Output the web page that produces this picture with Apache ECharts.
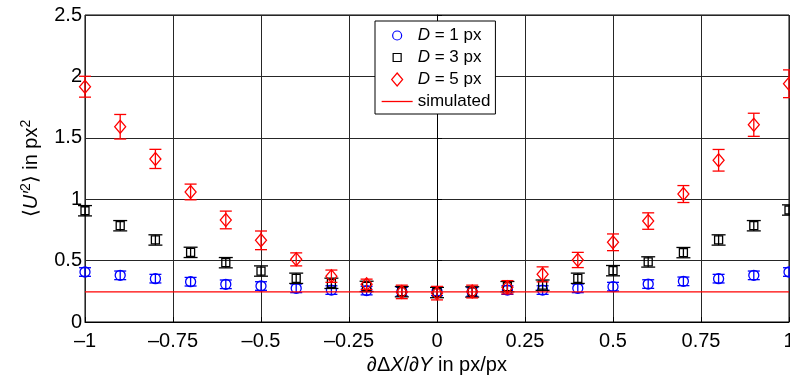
<!DOCTYPE html>
<html>
<head>
<meta charset="utf-8">
<script src="https://cdn.jsdelivr.net/npm/echarts@6/dist/echarts.min.js"></script>
<style>
html,body{margin:0;padding:0;background:#fff;}
#chart{width:790px;height:379px;}
</style>
</head>
<body>
<div id="chart"></div>
<script>
// ---- data ----
var xVals = [-1, -0.9, -0.8, -0.7, -0.6, -0.5, -0.4, -0.3, -0.2, -0.1, 0, 0.1, 0.2, 0.3, 0.4, 0.5, 0.6, 0.7, 0.8, 0.9, 1];
var d1Mean = [0.407, 0.380, 0.353, 0.328, 0.307, 0.293, 0.274, 0.260, 0.256, 0.247, 0.250, 0.245, 0.260, 0.260, 0.274, 0.288, 0.309, 0.331, 0.353, 0.380, 0.407];
var d1Err  = [0.035, 0.035, 0.035, 0.035, 0.035, 0.035, 0.035, 0.035, 0.035, 0.035, 0.035, 0.035, 0.035, 0.035, 0.035, 0.035, 0.035, 0.035, 0.035, 0.035, 0.035];
var d3Mean = [0.906, 0.784, 0.668, 0.567, 0.483, 0.415, 0.356, 0.315, 0.290, 0.247, 0.240, 0.245, 0.288, 0.300, 0.356, 0.418, 0.489, 0.565, 0.668, 0.784, 0.912];
var d3Err  = [0.042, 0.042, 0.042, 0.042, 0.042, 0.042, 0.042, 0.042, 0.042, 0.042, 0.042, 0.042, 0.042, 0.042, 0.042, 0.042, 0.042, 0.042, 0.042, 0.042, 0.042];
var d5Mean = [1.916, 1.590, 1.328, 1.059, 0.831, 0.665, 0.510, 0.373, 0.307, 0.245, 0.235, 0.248, 0.283, 0.388, 0.505, 0.649, 0.822, 1.042, 1.317, 1.606, 1.940];
var d5Err  = [0.085, 0.100, 0.078, 0.064, 0.072, 0.076, 0.053, 0.050, 0.042, 0.055, 0.055, 0.052, 0.054, 0.061, 0.062, 0.068, 0.067, 0.069, 0.088, 0.094, 0.113];
var simX = [-1, 1];
var simY = [0.245, 0.245];
var xTickLabels = ['\u20131', '\u20130.75', '\u20130.5', '\u20130.25', '0', '0.25', '0.5', '0.75', '1'];
var yTickLabels = ['0', '0.5', '1', '1.5', '2', '2.5'];
var seriesNames = ['D = 1 px', 'D = 3 px', 'D = 5 px', 'simulated'];

// ---- helpers ----
function pts(m) { return xVals.map(function (x, i) { return [x, m[i]]; }); }
function errData(m, e) { return xVals.map(function (x, i) { return [x, m[i] - e[i], m[i] + e[i]]; }); }
function errSeries(m, e, color, hw, z) {
  return {
    type: 'custom', z: z, silent: true,
    data: errData(m, e),
    renderItem: function (params, api) {
      var x = api.value(0), lo = api.value(1), hi = api.value(2);
      var t = api.coord([x, hi]), b = api.coord([x, lo]);
      var st = { stroke: color, lineWidth: 1.3 };
      return { type: 'group', children: [
        { type: 'line', shape: { x1: t[0], y1: t[1], x2: b[0], y2: b[1] }, style: st },
        { type: 'line', shape: { x1: t[0] - hw, y1: t[1], x2: t[0] + hw, y2: t[1] }, style: st },
        { type: 'line', shape: { x1: b[0] - hw, y1: b[1], x2: b[0] + hw, y2: b[1] }, style: st }
      ]};
    }
  };
}

var FONT = '"Liberation Sans", Arial, Helvetica, sans-serif';
var chart = echarts.init(document.getElementById('chart'), null, { renderer: 'canvas' });

var option = {
  animation: false,
  backgroundColor: '#fff',
  grid: { left: 85, right: 1, top: 15, bottom: 57, outerBoundsMode: 'none', containLabel: false,
          show: true, borderColor: '#000', borderWidth: 1, backgroundColor: 'transparent' },
  xAxis: {
    type: 'value', min: -1, max: 1, interval: 0.25,
    axisLine: { show: true, onZero: false, lineStyle: { color: '#000', width: 1 } },
    axisTick: { show: true, inside: true, length: 5, lineStyle: { color: '#000' } },
    splitLine: { show: true, lineStyle: { color: '#262626', width: 1 } },
    axisLabel: {
      color: '#000', fontSize: 20, fontFamily: FONT, margin: 9,
      formatter: function (v) { return xTickLabels[Math.round((v + 1) / 0.25)]; }
    },
    name: '\u2202\u0394{i|X}/\u2202{i|Y} in px/px',
    nameLocation: 'middle', nameGap: 28,
    nameTextStyle: {
      color: '#000', fontSize: 20, fontFamily: FONT,
      rich: { i: { fontStyle: 'italic', fontSize: 20, fontFamily: FONT, color: '#000' } }
    }
  },
  yAxis: {
    type: 'value', min: 0, max: 2.5, interval: 0.5,
    axisLine: { show: true, lineStyle: { color: '#000', width: 1 } },
    axisTick: { show: true, inside: true, length: 5, lineStyle: { color: '#000' } },
    splitLine: { show: true, lineStyle: { color: '#262626', width: 1 } },
    axisLabel: {
      color: '#000', fontSize: 20, fontFamily: FONT, margin: 3,
      formatter: function (v) { return yTickLabels[Math.round(v / 0.5)]; }
    },
    name: '\u27E8{i|U\u2032}{s|2}\u27E9 in px{s|2}',
    nameLocation: 'middle', nameGap: 42, nameRotate: 90,
    nameTextStyle: {
      color: '#000', fontSize: 20, fontFamily: FONT,
      rich: {
        i: { fontStyle: 'italic', fontSize: 20, fontFamily: FONT, color: '#000' },
        s: { fontSize: 14, fontFamily: FONT, color: '#000', verticalAlign: 'top', lineHeight: 24 }
      }
    }
  },
  legend: {
    orient: 'vertical', left: 375, top: 21,
    padding: [6, 5, 4, 6], itemGap: 5, itemWidth: 31, itemHeight: 13,
    backgroundColor: '#fff', borderColor: '#000', borderWidth: 1,
    selectedMode: false,
    itemStyle: { borderWidth: 1 },
    textStyle: {
      color: '#000', fontSize: 17, fontFamily: FONT,
      rich: { i: { fontStyle: 'italic', fontSize: 17, fontFamily: FONT, color: '#000' } }
    },
    formatter: function (name) { return name.charAt(0) === 'D' ? '{i|D}' + name.slice(1) : name; },
    data: [
      { name: seriesNames[0], icon: 'path://M0,0M31,13M20,6.5A4.5,4.5,0,1,1,11,6.5A4.5,4.5,0,1,1,20,6.5Z',
        itemStyle: { color: 'rgba(0,0,0,0)', borderColor: '#0000ff', borderWidth: 1.2 } },
      { name: seriesNames[1], icon: 'path://M0,0M31,13M11.5,2.5L19.5,2.5L19.5,10.5L11.5,10.5Z',
        itemStyle: { color: 'rgba(0,0,0,0)', borderColor: '#000000', borderWidth: 1.2 } },
      { name: seriesNames[2], icon: 'path://M0,0M31,13M15.5,0L21,6.5L15.5,13L10,6.5Z',
        itemStyle: { color: 'rgba(0,0,0,0)', borderColor: '#ff0000', borderWidth: 1.2 } },
      { name: seriesNames[3], icon: 'path://M0,0M31,13M0,6.5L31,6.5',
        itemStyle: { color: 'rgba(0,0,0,0)', borderColor: '#ff0000', borderWidth: 1.3 } }
    ]
  },
  series: [
    errSeries(d1Mean, d1Err, '#0000ff', 6, 2),
    { name: seriesNames[0], type: 'scatter', z: 3, symbol: 'circle', symbolSize: 10, data: pts(d1Mean),
      itemStyle: { color: 'rgba(0,0,0,0)', borderColor: '#0000ff', borderWidth: 1.3, opacity: 1 } },
    errSeries(d3Mean, d3Err, '#000000', 7, 4),
    { name: seriesNames[1], type: 'scatter', z: 5, symbol: 'rect', symbolSize: 8, data: pts(d3Mean),
      itemStyle: { color: 'rgba(0,0,0,0)', borderColor: '#000000', borderWidth: 1.3, opacity: 1 } },
    errSeries(d5Mean, d5Err, '#ff0000', 6, 6),
    { name: seriesNames[2], type: 'scatter', z: 7, symbol: 'diamond', symbolSize: [11, 13], data: pts(d5Mean),
      itemStyle: { color: 'rgba(0,0,0,0)', borderColor: '#ff0000', borderWidth: 1.3, opacity: 1 } },
    { name: seriesNames[3], type: 'line', z: 8, symbol: 'none', silent: true,
      data: simX.map(function (x, i) { return [x, simY[i]]; }),
      lineStyle: { color: '#ff0000', width: 1.3 }, itemStyle: { color: '#ff0000' } }
  ]
};
chart.setOption(option);
</script>
</body>
</html>
